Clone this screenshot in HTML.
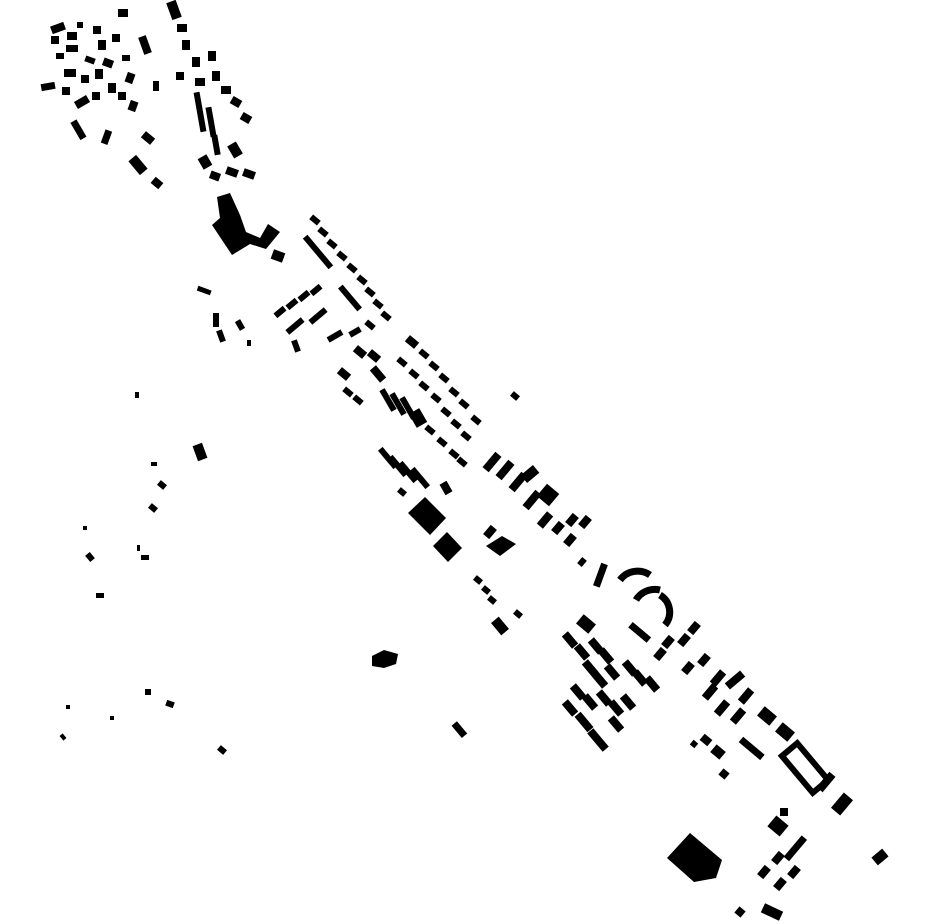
<!DOCTYPE html>
<html><head><meta charset="utf-8"><style>html,body{margin:0;padding:0;background:#fff}svg{display:block}</style></head>
<body>
<svg width="930" height="924" viewBox="0 0 930 924" xmlns="http://www.w3.org/2000/svg">
<g fill="#000">
<rect x="-7" y="-4" width="14" height="8" transform="translate(58,28) rotate(-20)"/>
<rect x="-5" y="-4" width="10" height="8" transform="translate(72,36)"/>
<rect x="-4" y="-4" width="8" height="8" transform="translate(55,40)"/>
<rect x="-6" y="-3" width="12" height="7" transform="translate(72,48)"/>
<rect x="-4" y="-3" width="8" height="6" transform="translate(60,56)"/>
<rect x="-3" y="-3" width="6" height="6" transform="translate(80,25)"/>
<rect x="-4" y="-4" width="8" height="8" transform="translate(97,30)"/>
<rect x="-4" y="-5" width="8" height="10" transform="translate(102,45)"/>
<rect x="-4" y="-4" width="8" height="8" transform="translate(116,38)"/>
<rect x="-5" y="-4" width="10" height="8" transform="translate(123,13)"/>
<rect x="-5" y="-3" width="10" height="6" transform="translate(90,60) rotate(20)"/>
<rect x="-5" y="-4" width="10" height="8" transform="translate(108,63) rotate(20)"/>
<rect x="-4" y="-3" width="8" height="6" transform="translate(126,58)"/>
<rect x="-4" y="-9" width="8" height="18" transform="translate(145,45) rotate(-20)"/>
<rect x="-6" y="-4" width="12" height="8" transform="translate(70,73)"/>
<rect x="-4" y="-4" width="8" height="8" transform="translate(85,79)"/>
<rect x="-4" y="-5" width="8" height="10" transform="translate(99,74)"/>
<rect x="-4" y="-5" width="8" height="10" transform="translate(112,88)"/>
<rect x="-4" y="-5" width="8" height="10" transform="translate(130,78) rotate(20)"/>
<rect x="-7" y="-3" width="14" height="7" transform="translate(48,86) rotate(-10)"/>
<rect x="-4" y="-4" width="8" height="8" transform="translate(66,91)"/>
<rect x="-7" y="-4" width="14" height="8" transform="translate(82,102) rotate(-30)"/>
<rect x="-4" y="-4" width="8" height="8" transform="translate(96,96)"/>
<rect x="-4" y="-5" width="8" height="10" transform="translate(133,106) rotate(20)"/>
<rect x="-3" y="-5" width="6" height="10" transform="translate(156,86)"/>
<rect x="-4" y="-4" width="8" height="8" transform="translate(122,96)"/>
<rect x="-3" y="-10" width="7" height="20" transform="translate(78,130) rotate(-30)"/>
<rect x="-3" y="-7" width="7" height="14" transform="translate(106,137) rotate(20)"/>
<rect x="-6" y="-4" width="12" height="8" transform="translate(148,138) rotate(40)"/>
<rect x="-5" y="-9" width="10" height="18" transform="translate(138,165) rotate(-40)"/>
<rect x="-5" y="-4" width="10" height="8" transform="translate(157,183) rotate(40)"/>
<rect x="-4" y="-4" width="8" height="8" transform="translate(180,76)"/>
<rect x="-5" y="-9" width="10" height="18" transform="translate(174,10) rotate(-20)"/>
<rect x="-5" y="-4" width="10" height="8" transform="translate(182,28)"/>
<rect x="-4" y="-5" width="8" height="10" transform="translate(186,45)"/>
<rect x="-4" y="-5" width="8" height="10" transform="translate(196,62)"/>
<rect x="-4" y="-5" width="8" height="10" transform="translate(212,56)"/>
<rect x="-5" y="-4" width="10" height="8" transform="translate(200,82)"/>
<rect x="-4" y="-5" width="8" height="10" transform="translate(216,76)"/>
<rect x="-5" y="-4" width="10" height="8" transform="translate(226,90)"/>
<rect x="-5" y="-4" width="10" height="8" transform="translate(236,102) rotate(30)"/>
<rect x="-5" y="-4" width="10" height="8" transform="translate(246,118) rotate(30)"/>
<rect x="-3" y="-20" width="6" height="40" transform="translate(200,112) rotate(-10)"/>
<rect x="-3" y="-15" width="6" height="30" transform="translate(211,122) rotate(-10)"/>
<rect x="-3" y="-10" width="6" height="20" transform="translate(216,145) rotate(-10)"/>
<rect x="-5" y="-6" width="10" height="12" transform="translate(205,162) rotate(-30)"/>
<rect x="-5" y="-7" width="10" height="14" transform="translate(235,150) rotate(-30)"/>
<rect x="-5" y="-4" width="10" height="8" transform="translate(215,176) rotate(20)"/>
<rect x="-6" y="-4" width="12" height="8" transform="translate(232,172) rotate(20)"/>
<rect x="-6" y="-4" width="12" height="8" transform="translate(249,174) rotate(20)"/>
<polygon points="217,197 230,193 240,215 246,232 260,238 268,224 280,232 266,249 250,244 232,255 212,225 220,218"/>
<rect x="-6" y="-5" width="12" height="10" transform="translate(278,256) rotate(20)"/>
<rect x="-5" y="-3" width="10" height="6" transform="translate(315,220) rotate(40)"/>
<rect x="-5" y="-3" width="10" height="6" transform="translate(323,232) rotate(40)"/>
<rect x="-5" y="-3" width="10" height="6" transform="translate(332,244) rotate(40)"/>
<rect x="-5" y="-3" width="10" height="6" transform="translate(342,256) rotate(40)"/>
<rect x="-5" y="-3" width="10" height="6" transform="translate(352,268) rotate(40)"/>
<rect x="-5" y="-3" width="10" height="6" transform="translate(362,280) rotate(40)"/>
<rect x="-5" y="-3" width="10" height="6" transform="translate(370,292) rotate(40)"/>
<rect x="-5" y="-3" width="10" height="6" transform="translate(378,304) rotate(40)"/>
<rect x="-5" y="-3" width="10" height="6" transform="translate(386,316) rotate(40)"/>
<rect x="-20" y="-3" width="40" height="6" transform="translate(318,252) rotate(50)"/>
<rect x="-15" y="-3" width="30" height="6" transform="translate(350,298) rotate(50)"/>
<rect x="-5" y="-3" width="10" height="6" transform="translate(370,325) rotate(40)"/>
<rect x="-6" y="-3" width="12" height="6" transform="translate(280,312) rotate(-40)"/>
<rect x="-6" y="-3" width="12" height="6" transform="translate(292,304) rotate(-40)"/>
<rect x="-6" y="-3" width="12" height="6" transform="translate(304,296) rotate(-40)"/>
<rect x="-6" y="-3" width="12" height="6" transform="translate(316,290) rotate(-40)"/>
<rect x="-10" y="-3" width="20" height="6" transform="translate(295,326) rotate(-40)"/>
<rect x="-10" y="-3" width="20" height="6" transform="translate(318,316) rotate(-40)"/>
<rect x="-3" y="-6" width="6" height="12" transform="translate(296,346) rotate(-20)"/>
<rect x="-8" y="-3" width="16" height="6" transform="translate(335,336) rotate(-30)"/>
<rect x="-6" y="-3" width="12" height="6" transform="translate(355,332) rotate(-30)"/>
<rect x="-7" y="-3" width="14" height="5" transform="translate(204,291) rotate(20)"/>
<rect x="-3" y="-7" width="6" height="14" transform="translate(216,320)"/>
<rect x="-3" y="-6" width="6" height="12" transform="translate(221,336) rotate(-20)"/>
<rect x="-3" y="-5" width="6" height="10" transform="translate(240,325) rotate(-30)"/>
<rect x="-2" y="-3" width="4" height="6" transform="translate(249,343)"/>
<rect x="-6" y="-4" width="12" height="8" transform="translate(360,352) rotate(40)"/>
<rect x="-6" y="-4" width="12" height="8" transform="translate(374,356) rotate(40)"/>
<rect x="-6" y="-4" width="12" height="8" transform="translate(344,374) rotate(40)"/>
<rect x="-8" y="-4" width="16" height="8" transform="translate(378,374) rotate(50)"/>
<rect x="-5" y="-3" width="10" height="6" transform="translate(348,392) rotate(40)"/>
<rect x="-5" y="-3" width="10" height="6" transform="translate(358,400) rotate(40)"/>
<rect x="-3" y="-12" width="6" height="24" transform="translate(388,400) rotate(-30)"/>
<rect x="-3" y="-12" width="6" height="24" transform="translate(398,404) rotate(-30)"/>
<rect x="-3" y="-12" width="6" height="24" transform="translate(408,408) rotate(-30)"/>
<rect x="-6" y="-8" width="12" height="16" transform="translate(418,418) rotate(-30)"/>
<rect x="-6" y="-4" width="12" height="8" transform="translate(412,342) rotate(40)"/>
<rect x="-5" y="-3" width="10" height="6" transform="translate(424,354) rotate(40)"/>
<rect x="-5" y="-3" width="10" height="6" transform="translate(434,366) rotate(40)"/>
<rect x="-5" y="-3" width="10" height="6" transform="translate(444,378) rotate(40)"/>
<rect x="-5" y="-3" width="10" height="6" transform="translate(454,392) rotate(40)"/>
<rect x="-5" y="-3" width="10" height="6" transform="translate(464,404) rotate(40)"/>
<rect x="-5" y="-3" width="10" height="6" transform="translate(476,420) rotate(40)"/>
<rect x="-5" y="-3" width="10" height="6" transform="translate(402,362) rotate(40)"/>
<rect x="-5" y="-3" width="10" height="6" transform="translate(414,374) rotate(40)"/>
<rect x="-5" y="-3" width="10" height="6" transform="translate(424,386) rotate(40)"/>
<rect x="-5" y="-3" width="10" height="6" transform="translate(436,398) rotate(40)"/>
<rect x="-5" y="-3" width="10" height="6" transform="translate(446,412) rotate(40)"/>
<rect x="-5" y="-3" width="10" height="6" transform="translate(456,424) rotate(40)"/>
<rect x="-5" y="-3" width="10" height="6" transform="translate(466,436) rotate(40)"/>
<rect x="-5" y="-3" width="10" height="6" transform="translate(430,430) rotate(40)"/>
<rect x="-5" y="-3" width="10" height="6" transform="translate(442,442) rotate(40)"/>
<rect x="-5" y="-3" width="10" height="6" transform="translate(454,454) rotate(40)"/>
<rect x="-5" y="-3" width="10" height="6" transform="translate(462,462) rotate(40)"/>
<rect x="-3" y="-12" width="6" height="24" transform="translate(388,458) rotate(-40)"/>
<rect x="-3" y="-12" width="6" height="24" transform="translate(398,466) rotate(-40)"/>
<rect x="-3" y="-12" width="6" height="24" transform="translate(408,472) rotate(-40)"/>
<rect x="-3" y="-12" width="6" height="24" transform="translate(420,478) rotate(-40)"/>
<rect x="-4" y="-3" width="8" height="6" transform="translate(402,492) rotate(40)"/>
<rect x="-4" y="-6" width="8" height="12" transform="translate(446,488) rotate(-30)"/>
<polygon points="408,513 425,497 446,518 430,535"/>
<polygon points="433,546 447,532 462,548 448,562"/>
<rect x="-4" y="-3" width="8" height="6" transform="translate(515,396) rotate(40)"/>
<rect x="-4" y="-10" width="8" height="20" transform="translate(492,462) rotate(40)"/>
<rect x="-4" y="-10" width="8" height="20" transform="translate(505,470) rotate(40)"/>
<rect x="-8" y="-5" width="16" height="10" transform="translate(530,474) rotate(-40)"/>
<rect x="-4" y="-10" width="8" height="20" transform="translate(518,482) rotate(40)"/>
<rect x="-4" y="-10" width="8" height="20" transform="translate(532,500) rotate(40)"/>
<rect x="-8" y="-8" width="16" height="16" transform="translate(548,495) rotate(40)"/>
<rect x="-4" y="-8" width="8" height="16" transform="translate(545,520) rotate(40)"/>
<rect x="-4" y="-6" width="8" height="12" transform="translate(558,528) rotate(40)"/>
<rect x="-4" y="-6" width="8" height="12" transform="translate(572,520) rotate(40)"/>
<rect x="-4" y="-6" width="8" height="12" transform="translate(585,522) rotate(40)"/>
<rect x="-4" y="-6" width="8" height="12" transform="translate(570,540) rotate(40)"/>
<rect x="-4" y="-6" width="8" height="12" transform="translate(490,532) rotate(40)"/>
<polygon points="486,546 502,536 516,544 500,556"/>
<rect x="-3" y="-4" width="6" height="8" transform="translate(582,562) rotate(40)"/>
<rect x="-4" y="-3" width="8" height="6" transform="translate(478,580) rotate(40)"/>
<rect x="-4" y="-3" width="8" height="6" transform="translate(486,590) rotate(40)"/>
<rect x="-4" y="-3" width="8" height="6" transform="translate(492,600) rotate(40)"/>
<rect x="-5" y="-8" width="10" height="16" transform="translate(500,626) rotate(-40)"/>
<rect x="-4" y="-3" width="8" height="6" transform="translate(518,614) rotate(40)"/>
<g fill="none" stroke="#000" stroke-width="7">
<path d="M620,580 A22,22 0 0 1 650,575"/>
<path d="M636,600 A22,22 0 0 1 660,590"/>
<path d="M660,595 A20,20 0 0 1 665,625"/>
<rect x="-24" y="-10" width="48" height="20" transform="translate(805,768) rotate(50)" stroke-width="6"/>
</g>
<rect x="-3" y="-12" width="7" height="24" transform="translate(600,575) rotate(20)"/>
<rect x="-12" y="-3" width="24" height="7" transform="translate(640,632) rotate(40)"/>
<rect x="-4" y="-6" width="8" height="12" transform="translate(668,642) rotate(40)"/>
<rect x="-4" y="-6" width="8" height="12" transform="translate(684,640) rotate(40)"/>
<rect x="-4" y="-6" width="8" height="12" transform="translate(694,628) rotate(40)"/>
<rect x="-4" y="-6" width="8" height="12" transform="translate(660,654) rotate(40)"/>
<rect x="-4" y="-6" width="8" height="12" transform="translate(688,668) rotate(40)"/>
<rect x="-4" y="-6" width="8" height="12" transform="translate(704,660) rotate(40)"/>
<rect x="-8" y="-6" width="16" height="12" transform="translate(586,624) rotate(40)"/>
<rect x="-4" y="-8" width="8" height="16" transform="translate(570,640) rotate(-40)"/>
<rect x="-4" y="-8" width="8" height="16" transform="translate(582,652) rotate(-40)"/>
<rect x="-4" y="-8" width="8" height="16" transform="translate(596,646) rotate(-40)"/>
<rect x="-4" y="-8" width="8" height="16" transform="translate(606,656) rotate(-40)"/>
<rect x="-4" y="-8" width="8" height="16" transform="translate(590,668) rotate(-40)"/>
<rect x="-4" y="-8" width="8" height="16" transform="translate(600,680) rotate(-40)"/>
<rect x="-4" y="-8" width="8" height="16" transform="translate(612,672) rotate(-40)"/>
<rect x="-4" y="-8" width="8" height="16" transform="translate(630,668) rotate(-40)"/>
<rect x="-4" y="-8" width="8" height="16" transform="translate(640,678) rotate(-40)"/>
<rect x="-4" y="-8" width="8" height="16" transform="translate(652,684) rotate(-40)"/>
<rect x="-4" y="-8" width="8" height="16" transform="translate(578,692) rotate(-40)"/>
<rect x="-4" y="-8" width="8" height="16" transform="translate(570,708) rotate(-40)"/>
<rect x="-4" y="-8" width="8" height="16" transform="translate(590,702) rotate(-40)"/>
<rect x="-4" y="-8" width="8" height="16" transform="translate(604,698) rotate(-40)"/>
<rect x="-4" y="-8" width="8" height="16" transform="translate(616,708) rotate(-40)"/>
<rect x="-4" y="-8" width="8" height="16" transform="translate(628,702) rotate(-40)"/>
<rect x="-4" y="-10" width="8" height="20" transform="translate(584,722) rotate(-40)"/>
<rect x="-4" y="-12" width="8" height="24" transform="translate(598,740) rotate(-40)"/>
<rect x="-4" y="-8" width="8" height="16" transform="translate(616,724) rotate(-40)"/>
<rect x="-4" y="-8" width="8" height="16" transform="translate(718,678) rotate(40)"/>
<rect x="-10" y="-4" width="20" height="8" transform="translate(735,680) rotate(-40)"/>
<rect x="-4" y="-8" width="8" height="16" transform="translate(710,692) rotate(40)"/>
<rect x="-4" y="-8" width="8" height="16" transform="translate(746,696) rotate(40)"/>
<rect x="-4" y="-8" width="8" height="16" transform="translate(722,708) rotate(40)"/>
<rect x="-4" y="-8" width="8" height="16" transform="translate(738,716) rotate(40)"/>
<rect x="-8" y="-6" width="16" height="12" transform="translate(767,716) rotate(40)"/>
<rect x="-8" y="-6" width="16" height="12" transform="translate(785,732) rotate(40)"/>
<rect x="-14" y="-3" width="28" height="7" transform="translate(752,748) rotate(40)"/>
<rect x="-5" y="-4" width="10" height="8" transform="translate(706,740) rotate(40)"/>
<rect x="-6" y="-5" width="12" height="10" transform="translate(718,752) rotate(40)"/>
<rect x="-4" y="-4" width="8" height="8" transform="translate(724,774) rotate(40)"/>
<rect x="-3" y="-3" width="6" height="6" transform="translate(694,744) rotate(40)"/>
<rect x="-4" y="-10" width="8" height="20" transform="translate(826,782) rotate(40)"/>
<rect x="-6" y="-10" width="12" height="20" transform="translate(842,804) rotate(40)"/>
<rect x="-8" y="-7" width="16" height="14" transform="translate(778,826) rotate(40)"/>
<rect x="-4" y="-4" width="8" height="8" transform="translate(784,812)"/>
<rect x="-3" y="-14" width="7" height="28" transform="translate(795,848) rotate(40)"/>
<rect x="-4" y="-6" width="8" height="12" transform="translate(778,858) rotate(40)"/>
<rect x="-4" y="-6" width="8" height="12" transform="translate(764,872) rotate(40)"/>
<rect x="-4" y="-6" width="8" height="12" transform="translate(780,884) rotate(40)"/>
<rect x="-4" y="-6" width="8" height="12" transform="translate(794,872) rotate(40)"/>
<polygon points="667,858 690,833 722,860 716,878 694,882"/>
<rect x="-7" y="-5" width="14" height="10" transform="translate(880,857) rotate(-40)"/>
<rect x="-4" y="-4" width="8" height="8" transform="translate(740,912) rotate(40)"/>
<rect x="-10" y="-5" width="20" height="10" transform="translate(772,912) rotate(25)"/>
<rect x="135" y="392" width="4" height="6"/>
<rect x="-5" y="-8" width="10" height="16" transform="translate(200,452) rotate(-20)"/>
<rect x="151" y="462" width="6" height="4"/>
<rect x="-4" y="-3" width="8" height="6" transform="translate(162,485) rotate(40)"/>
<rect x="-4" y="-3" width="8" height="6" transform="translate(153,508) rotate(40)"/>
<rect x="83" y="526" width="4" height="4"/>
<rect x="-3" y="-4" width="6" height="8" transform="translate(90,557) rotate(-40)"/>
<rect x="141" y="555" width="8" height="5"/>
<rect x="137" y="545" width="3" height="6"/>
<rect x="96" y="593" width="8" height="5"/>
<polygon points="372,656 384,650 398,654 396,664 384,668 372,666"/>
<rect x="-3" y="-8" width="7" height="16" transform="translate(459,730) rotate(-40)"/>
<rect x="145" y="689" width="6" height="6"/>
<rect x="-4" y="-3" width="8" height="6" transform="translate(170,704) rotate(20)"/>
<rect x="110" y="716" width="4" height="4"/>
<rect x="66" y="705" width="4" height="4"/>
<rect x="-2" y="-3" width="4" height="6" transform="translate(63,737) rotate(-40)"/>
<rect x="-4" y="-3" width="8" height="6" transform="translate(222,750) rotate(40)"/>
</g>
</svg>
</body></html>
